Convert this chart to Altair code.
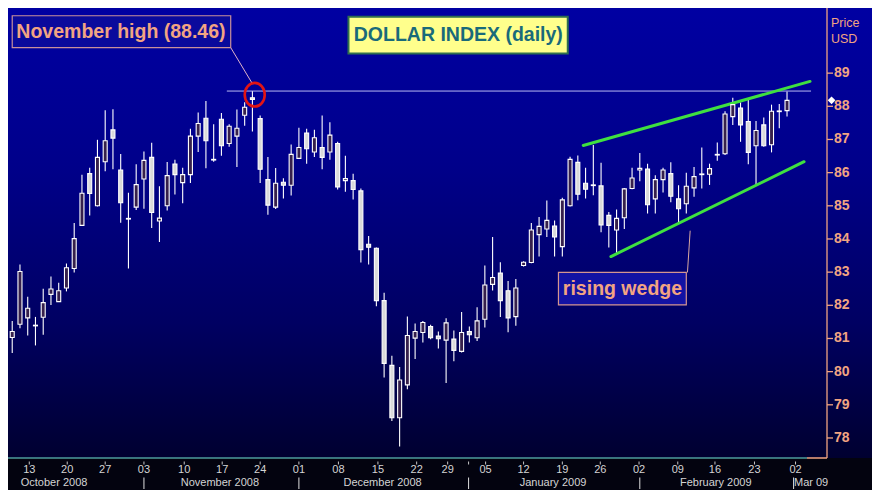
import altair as alt
import pandas as pd

# ---------------- data ----------------
opens = [81.03, 81.43, 81.62, 81.38, 81.64, 82.33, 82.11, 82.52, 83.11, 84.41,
         85.97, 85.00, 86.33, 87.29, 86.08, 84.62, 84.96, 85.81, 86.46, 84.54,
         85.00, 86.26, 85.70, 85.94, 87.10, 87.64, 86.40, 87.61, 86.88, 87.10,
         87.73, 88.26, 87.63, 85.79, 84.96, 85.71, 85.62, 86.43, 87.19, 86.62,
         86.76, 86.62, 86.88, 85.76, 85.76, 85.45, 83.84, 83.72, 82.14, 80.19,
         78.61, 79.60, 81.01, 81.18, 81.36, 81.07, 80.95, 80.98, 80.61, 81.21,
         81.02, 81.58, 82.63, 82.97, 82.44, 81.66, 83.20, 83.29, 84.13, 84.30,
         84.39, 83.77, 85.00, 86.31, 85.68, 85.63, 85.60, 84.71, 84.27, 84.64,
         85.52, 86.08, 86.11, 85.21, 85.79, 85.97, 85.21, 85.06, 85.54, 85.94,
         85.95, 86.53, 86.57, 87.69, 87.95, 87.54, 86.81, 87.44, 86.84, 87.84,
         87.87]
highs = [81.53, 83.23, 82.26, 81.65, 82.50, 82.87, 82.68, 83.26, 84.48, 85.94,
         86.15, 86.99, 87.88, 87.91, 86.56, 85.39, 86.25, 86.64, 86.90, 85.59,
         86.32, 86.39, 86.15, 87.32, 87.81, 88.16, 87.46, 87.80, 87.46, 87.90,
         88.12, 88.46, 87.72, 86.47, 86.14, 85.83, 86.85, 87.35, 87.32, 87.29,
         87.72, 87.52, 86.93, 86.51, 85.97, 85.52, 84.09, 83.74, 82.38, 80.48,
         80.14, 81.66, 81.45, 81.53, 81.41, 81.21, 81.61, 81.24, 81.80, 81.36,
         81.94, 83.20, 84.06, 83.30, 82.73, 82.79, 83.33, 84.48, 84.66, 85.16,
         84.56, 85.24, 86.48, 86.52, 86.15, 86.83, 86.30, 84.81, 84.89, 85.54,
         86.15, 86.59, 86.27, 85.92, 86.15, 86.31, 85.62, 86.00, 86.17, 86.76,
         86.27, 86.91, 87.85, 88.26, 88.12, 88.19, 87.56, 87.66, 88.05, 88.07,
         88.45]
lows = [80.56, 81.31, 81.09, 80.79, 81.11, 82.01, 82.10, 82.42, 82.99, 84.40,
        84.71, 84.98, 86.04, 86.10, 84.49, 83.11, 84.87, 84.91, 84.33, 83.91,
        84.86, 85.34, 85.08, 85.69, 86.62, 86.13, 86.33, 86.51, 86.78, 86.17,
        87.41, 87.24, 85.69, 84.73, 84.90, 85.22, 85.31, 86.43, 86.27, 86.47,
        86.10, 86.39, 85.49, 85.42, 85.19, 83.29, 83.23, 81.97, 79.82, 78.51,
        77.74, 79.47, 80.38, 80.88, 80.98, 80.70, 79.66, 80.31, 80.58, 80.88,
        80.92, 81.33, 82.45, 81.65, 81.19, 81.38, 83.17, 83.27, 83.47, 84.06,
        83.47, 83.47, 84.98, 85.17, 85.22, 85.32, 84.20, 83.74, 83.57, 84.30,
        85.50, 85.74, 84.77, 84.77, 85.40, 85.11, 84.47, 84.77, 85.27, 85.52,
        85.63, 86.36, 86.53, 87.44, 86.93, 86.25, 85.62, 86.78, 86.61, 87.34,
        87.69]
closes = [81.21, 83.02, 81.91, 81.40, 82.08, 82.49, 82.44, 83.13, 84.01, 85.38,
          85.37, 86.46, 86.96, 87.04, 85.09, 84.60, 85.64, 86.37, 84.80, 84.63,
          85.91, 85.94, 85.94, 87.10, 87.48, 86.96, 86.38, 86.81, 87.40, 87.34,
          87.97, 88.21, 86.10, 85.02, 85.68, 85.62, 86.55, 86.76, 86.72, 87.05,
          86.46, 87.13, 85.57, 85.82, 85.49, 83.68, 83.75, 82.14, 80.25, 78.61,
          79.75, 81.09, 81.21, 81.48, 81.02, 80.99, 81.47, 80.64, 81.18, 81.11,
          81.53, 82.61, 82.84, 82.14, 81.62, 82.52, 83.30, 84.27, 84.38, 84.56,
          84.06, 85.18, 86.40, 85.35, 85.50, 85.61, 84.42, 84.41, 84.62, 85.51,
          85.84, 86.13, 85.03, 85.79, 86.08, 85.29, 84.91, 85.59, 85.88, 85.96,
          86.12, 86.55, 87.77, 88.05, 87.44, 86.61, 87.27, 86.81, 87.85, 87.86,
          88.18]

day_tick_pos = [2.2, 7.1, 12.0, 17.0, 22.2, 27.1, 32.0, 37.0, 42.1, 47.2, 52.2,
                56.2, 61.1, 66.0, 71.0, 75.9, 80.9, 85.9, 90.7, 95.8, 101.1]
day_tick_lab = ["13", "20", "27", "03", "10", "17", "24", "01", "08", "15", "22",
                "29", "05", "12", "19", "26", "02", "09", "16", "23", "02"]
extra_tick_pos = [58.9]
month_pos = [5.4, 26.8, 47.8, 69.8, 90.8]
month_lab = ["October 2008", "November 2008", "December 2008", "January 2009", "February 2009"]
mar_pos = [100.9]
mar_lab = ["Mar 09"]
month_sep = [17.0, 37.0, 58.9, 81.0, 100.85]

price_ticks = [78, 79, 80, 81, 82, 83, 84, 85, 86, 87, 88, 89]
nov_high = 88.46
nov_line_x = [27.7, 103.1]

wedge_upper_x = [73.7, 102.97]
wedge_upper_y = [86.82, 88.75]
wedge_lower_x = [77.27, 102.2]
wedge_lower_y = [83.47, 86.33]

# annotation boxes (data coordinates)
box_nov = dict(x=[0.0], x2=[28.2], y=[90.73], y2=[89.77])
box_title = dict(x=[43.4], x2=[71.7], y=[90.70], y2=[89.59])
box_wedge = dict(x=[70.5], x2=[87.0], y=[82.99], y2=[82.01])
conn_nov = dict(x=[28.2], x2=[30.9], y=[89.77], y2=[88.72])
conn_wedge = dict(x=[87.5], x2=[87.15], y=[84.25], y2=[82.99])

# ---------------- layout ----------------
W, H = 819, 450
PAD_R, PAD_B = 45, 32
SALMON = "#F2A482"
FONT = "Liberation Sans"

xscale = alt.Scale(domain=[-0.545, 105.16], nice=False, zero=False, padding=0)
yscale = alt.Scale(domain=[77.396, 90.964], nice=False, zero=False, padding=0)

def X(f):
    return alt.X(f, scale=xscale, axis=None)

def Y(f):
    return alt.Y(f, scale=yscale, axis=None)

df = pd.DataFrame({"i": list(range(len(opens))), "o": opens, "h": highs,
                   "l": lows, "c": closes})
one = pd.DataFrame({"a": [0]})

bg = alt.Chart(one).mark_rect(
    fill=alt.LinearGradient(
        gradient="linear", x1=0, x2=0, y1=0, y2=1,
        stops=[alt.GradientStop(color="#0000A2", offset=0),
               alt.GradientStop(color="#00008A", offset=0.35),
               alt.GradientStop(color="#000062", offset=0.7),
               alt.GradientStop(color="#000030", offset=1)])
).encode(x=alt.value(0), x2=alt.value(W + PAD_R), y=alt.value(0), y2=alt.value(H))

base = alt.Chart(df)
wicks = base.mark_rule(color="white", strokeWidth=1.1).encode(
    x=X("i:Q"), y=Y("l:Q"), y2="h:Q")
bodies = base.mark_bar(size=4, stroke="white", strokeWidth=1.1).encode(
    x=X("i:Q"), y=Y("o:Q"), y2="c:Q",
    fill=alt.condition("datum.c >= datum.o", alt.value("#36204C"), alt.value("#DADADA")),
)

nov_df = pd.DataFrame({"x": [nov_line_x[0]], "x2": [nov_line_x[1]], "y": [nov_high]})
nov_line = alt.Chart(nov_df).mark_rule(color="#B9B9F2", strokeWidth=1).encode(
    x=X("x:Q"), x2="x2:Q", y=Y("y:Q"))

wedge_df = pd.DataFrame({
    "x": [wedge_upper_x[0], wedge_lower_x[0]], "x2": [wedge_upper_x[1], wedge_lower_x[1]],
    "y": [wedge_upper_y[0], wedge_lower_y[0]], "y2": [wedge_upper_y[1], wedge_lower_y[1]]})
wedge = alt.Chart(wedge_df).mark_rule(color="#3FE040", strokeWidth=3, strokeCap="round").encode(
    x=X("x:Q"), x2="x2:Q", y=Y("y:Q"), y2="y2:Q")

ellipse_path = "M 0 -1.18 A 1 1.18 0 1 1 0 1.18 A 1 1.18 0 1 1 0 -1.18 Z"
ell = alt.Chart(pd.DataFrame({"x": [31.3], "y": [88.35]})).mark_point(
    shape=ellipse_path, size=400, filled=False, stroke="#E21414", strokeWidth=2.6,
    opacity=1).encode(x=X("x:Q"), y=Y("y:Q"))

def rect_layer(d, fill, stroke, sw):
    return alt.Chart(pd.DataFrame(d)).mark_rect(fill=fill, stroke=stroke, strokeWidth=sw).encode(
        x=X("x:Q"), x2="x2:Q", y=Y("y:Q"), y2="y2:Q")

def conn_layer(d, color):
    return alt.Chart(pd.DataFrame(d)).mark_rule(color=color, strokeWidth=1).encode(
        x=X("x:Q"), x2="x2:Q", y=Y("y:Q"), y2="y2:Q")

b1 = rect_layer(box_nov, "#0A0A9C", "#C9919A", 1.2)
b2 = rect_layer(box_title, "#FFFF8C", "#2F6F4F", 2)
b3 = rect_layer(box_wedge, "#1212A4", "#D59590", 1.2)
c1 = conn_layer(conn_nov, "#E0B4C8")
c2 = conn_layer(conn_wedge, "#D8A8A0")

def text_layer(xs, ys, labels, color, size, weight="bold", align="center"):
    d = pd.DataFrame({"x": xs, "y": ys, "t": labels})
    return alt.Chart(d).mark_text(color=color, font=FONT, fontSize=size, fontWeight=weight,
                                  align=align, baseline="middle").encode(
        x=X("x:Q"), y=Y("y:Q"), text="t:N")

t1 = text_layer([14.03], [90.24], ["November high (88.46)"], SALMON, 19.5)
t2 = text_layer([57.57], [90.15], ["DOLLAR INDEX (daily)"], "#196A7A", 19.5)
t3 = text_layer([78.76], [82.50], ["rising wedge"], SALMON, 19.5)
t_price = text_layer([105.67, 105.67], [90.50, 90.03], ["Price", "USD"], SALMON, 12.5,
                     weight="normal", align="left")

marker = alt.Chart(pd.DataFrame({"x": [105.75], "y": [closes[-1]]})).mark_point(
    shape="diamond", filled=True, color="white", size=60, opacity=1).encode(
    x=X("x:Q"), y=Y("y:Q"))

# right price axis (drawn as marks)
pt = pd.DataFrame({"p": price_ticks, "t": [str(v) for v in price_ticks]})
y_domain = alt.Chart(one).mark_rule(color=SALMON, strokeWidth=1.3).encode(
    x=alt.value(W), y=alt.value(0), y2=alt.value(H))
y_ticks = alt.Chart(pt).mark_rule(color=SALMON, strokeWidth=1.3).encode(
    x=alt.value(W), x2=alt.value(W + 6), y=Y("p:Q"))
y_labels = alt.Chart(pt).mark_text(color=SALMON, font=FONT, fontSize=14, fontWeight="bold",
                                   align="left", baseline="middle").encode(
    x=alt.value(W + 7), y=Y("p:Q"), text="t:N")

# bottom date axis
x_domain = alt.Chart(one).mark_rule(color="#4C9C9C", strokeWidth=1.5).encode(
    x=alt.value(0), x2=alt.value(W - 20), y=alt.value(H))
x_domain2 = alt.Chart(one).mark_rule(color=SALMON, strokeWidth=1.5).encode(
    x=alt.value(W - 20), x2=alt.value(W), y=alt.value(H))
dt = pd.DataFrame({"x": day_tick_pos, "t": day_tick_lab})
day_labels = alt.Chart(dt).mark_text(color="#D4D4D4", font=FONT, fontSize=11,
                                     baseline="middle").encode(
    x=X("x:Q"), y=alt.value(H + 11.5), text="t:N")
ticks_df = pd.DataFrame({"x": day_tick_pos + extra_tick_pos})
day_ticks = alt.Chart(ticks_df).mark_rule(color="#C8C8C8", strokeWidth=1).encode(
    x=X("x:Q"), y=alt.value(H + 3.5), y2=alt.value(H + 6.5))
md = pd.DataFrame({"x": month_pos, "t": month_lab})
month_labels = alt.Chart(md).mark_text(color="#D4D4D4", font=FONT, fontSize=11,
                                       baseline="middle").encode(
    x=X("x:Q"), y=alt.value(H + 25.3), text="t:N")
mar_labels = alt.Chart(pd.DataFrame({"x": mar_pos, "t": mar_lab})).mark_text(
    color="#D4D4D4", font=FONT, fontSize=11, baseline="middle", align="left").encode(
    x=X("x:Q"), y=alt.value(H + 25.3), text="t:N")
seps = alt.Chart(pd.DataFrame({"x": month_sep})).mark_rule(color="#E0E0E0", strokeWidth=1).encode(
    x=X("x:Q"), y=alt.value(H + 19.5), y2=alt.value(H + 31))

chart = alt.layer(
    bg, wicks, nov_line, wedge, bodies, ell, c1, c2, b1, b2, b3, t1, t2, t3, t_price,
    marker, y_domain, y_ticks, y_labels, x_domain, x_domain2,
    day_ticks, day_labels, month_labels, mar_labels, seps
).properties(
    width=W, height=H,
    autosize=alt.AutoSizeParams(type="none"),
    padding={"left": 0, "top": 0, "right": PAD_R, "bottom": PAD_B},
    background="#03030F",
).configure_view(strokeWidth=0)

chart.save("out.html", embed_options={"renderer": "svg", "actions": False})
